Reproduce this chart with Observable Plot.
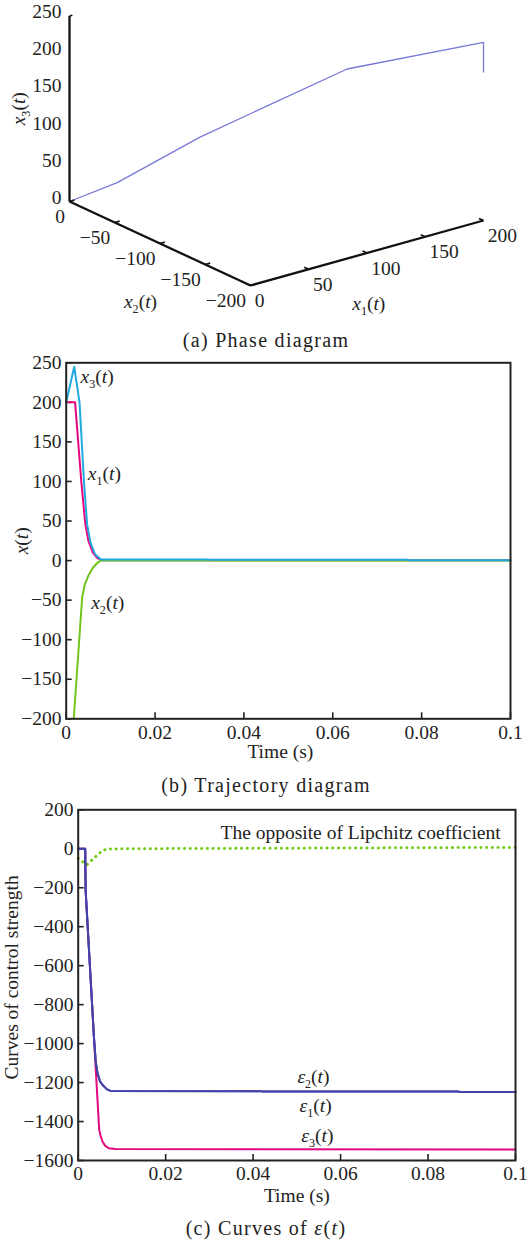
<!DOCTYPE html>
<html><head><meta charset="utf-8">
<script src="https://cdn.jsdelivr.net/npm/d3@7"></script>
<script src="https://cdn.jsdelivr.net/npm/@observablehq/plot@0.6"></script>
<style>
body{margin:0;background:#fff;}
#wrap{position:relative;width:532px;height:1243px;overflow:hidden;font-family:"Liberation Serif",serif;color:#222;}
#wrap svg{position:absolute;left:0;display:block;}
.cap{position:absolute;left:0;width:532px;text-align:center;font-size:20px;letter-spacing:1.3px;line-height:30px;height:30px;color:#222;}
</style></head>
<body><div id="wrap"></div>
<script>
// ---------- Panel (a): phase diagram ----------
const phaseX1 = [200, 200, 145, 65, 20, 0];
const phaseX2 = [-200, -200, -120, -60, -27, 0];
const phaseX3 = [200, 240, 183, 92, 32, 0];
const axis1Ticks = [0, 50, 100, 150, 200];
const axis2Ticks = [0, -50, -100, -150, -200];
const axis3Ticks = [0, 50, 100, 150, 200, 250];
const axisTitlesA = ["x1(t)", "x2(t)", "x3(t)"];

// ---------- Panel (b): trajectory diagram ----------
const tX1 = [0, 0.002, 0.0034, 0.0043, 0.005, 0.006, 0.007, 0.008, 0.1];
const valX1 = [200, 200, 100, 46, 25, 10, 3, 0.5, 0.5];
const tX2 = [0.0017, 0.0036, 0.0042, 0.005, 0.006, 0.007, 0.0078, 0.1];
const valX2 = [-200, -46, -30, -19, -9, -3, 0, 0];
const tX3 = [0, 0.0018, 0.003, 0.004, 0.0047, 0.0055, 0.0065, 0.0078, 0.032, 0.0321, 0.077, 0.0771, 0.1];
const valX3 = [200, 245, 200, 100, 46, 22, 8, 1.5, 1.5, 1, 1, 0.5, 0.5];
const bTimeTicks = [0, 0.02, 0.04, 0.06, 0.08, 0.1];
const bValueTicks = [-200, -150, -100, -50, 0, 50, 100, 150, 200, 250];
const bLabels = ["x3(t)", "x1(t)", "x2(t)"];
const bLabelT = [0.00322, 0.00486, 0.00563];
const bLabelV = [232, 110, -53];

// ---------- Panel (c): curves of epsilon ----------
const tEps = [0, 0.0016, 0.0017, 0.0036, 0.004, 0.0044, 0.005, 0.0058, 0.0066, 0.0074, 0.042, 0.0421, 0.087, 0.0871, 0.1];
const eps1 = [0, 0, -214, -967, -1090, -1150, -1195, -1218, -1235, -1243, -1244, -1246, -1246, -1248, -1248];
const eps2 = [0, 0, -214, -967, -1090, -1150, -1195, -1218, -1235, -1243, -1244, -1246, -1246, -1248, -1248];
const tEps3 = [0, 0.0016, 0.0017, 0.0048, 0.0051, 0.0056, 0.0062, 0.007, 0.0085, 0.1];
const eps3 = [0, 0, -214, -1442, -1472, -1505, -1525, -1537, -1541, -1544];
const tLip = [0, 0.002, 0.004, 0.0055, 0.0065, 0.01, 0.1];
const lip = [-50, -82, -40, -10, -2, 0, 7];
const cTimeTicks = [0, 0.02, 0.04, 0.06, 0.08, 0.1];
const cValueTicks = [-1600, -1400, -1200, -1000, -800, -600, -400, -200, 0, 200];
const cLabels = ["The opposite of Lipchitz coefficient", "ε2(t)", "ε1(t)", "ε3(t)"];
const cLabelT = [0.0966, 0.0538, 0.0543, 0.0547];
const cLabelV = [84, -1172, -1318, -1472];
const cLabelAnchor = ["end", "middle", "middle", "middle"];

// ---------- helpers ----------
const fmt = d => (d < 0 ? "\u2212" + Math.abs(d) : String(d));
const series = (ts, vs) => ts.map((t, i) => ({t, v: vs[i]}));
function richText(s) {
  const m = s.match(/^(x|ε)(\d?)\(t\)$/);
  if (!m) return null;
  const sub = m[2] ? `<tspan font-size="0.62em" dy="5">${m[2]}</tspan><tspan dy="-5">(</tspan>` : `<tspan>(</tspan>`;
  return `<tspan font-style="italic">${m[1]}</tspan>${sub}<tspan font-style="italic">t</tspan><tspan>)</tspan>`;
}
function enrich(svg) {
  d3.select(svg).selectAll("text").each(function () {
    if (this.querySelector("tspan")) return;
    const r = richText(this.textContent);
    if (r) this.innerHTML = r;
  });
  return svg;
}
const baseStyle = {fontFamily: "'Liberation Serif', serif", fontSize: "19.5px", color: "#222", background: "transparent", overflow: "visible"};
const wrap = document.getElementById("wrap");
function place(node, top) { node.style.top = top + "px"; wrap.appendChild(node); }
function caption(html, top) {
  const d = document.createElement("div");
  d.className = "cap"; d.innerHTML = html; d.style.top = top + "px"; wrap.appendChild(d);
}
const mid = {textAnchor: "middle", lineAnchor: "middle"};

// ---------- Panel (a) ----------
const proj = (a, b, c) => [1.165 * a - 0.905 * b, 0.325 * a + 0.42 * b + 0.742 * c];
const phase = phaseX1.map((a, i) => proj(a, phaseX2[i], phaseX3[i]));
const x1max = d3.max(axis1Ticks), x2min = d3.min(axis2Ticks), x3max = d3.max(axis3Ticks);
const axesSegs = [
  [[0, 0, 0], [0, 0, x3max]],
  [[0, 0, 0], [0, x2min, 0]],
  [[0, x2min, 0], [x1max, x2min, 0]]
];
const tickSegs = [
  ...axis2Ticks.map(v => [[0, v, 0], [4.2, v, 0]]),
  ...axis1Ticks.map(v => [[v, x2min, 0], [v, x2min + 5, 0]]),
  [[0, 0, x3max], [2.5, 0, x3max]]
];
const P = (s, k, j) => proj(...s[k])[j];
const titleA = [
  {label: axisTitlesA[2], p: proj(0, 0, 125), dx: -50.7, dy: 0, rot: -90},
  {label: axisTitlesA[1], p: proj(0, -100, 0), dx: -19.5, dy: 58.7, rot: 0},
  {label: axisTitlesA[0], p: proj(100, x2min, 0), dx: 1.8, dy: 50.8, rot: 0}
];
const plotA = Plot.plot({
  width: 532, height: 325, margin: 0,
  style: baseStyle,
  x: {type: "linear", domain: [-69, 463], range: [0, 532], axis: null},
  y: {type: "linear", domain: [-124, 201], range: [325, 0], axis: null},
  marks: [
    Plot.line(phase, {x: d => d[0], y: d => d[1], stroke: "#7878d8", strokeWidth: 1.3}),
    Plot.link(axesSegs, {x1: s => P(s, 0, 0), y1: s => P(s, 0, 1), x2: s => P(s, 1, 0), y2: s => P(s, 1, 1), stroke: "#111", strokeWidth: 2.3}),
    Plot.link(tickSegs, {x1: s => P(s, 0, 0), y1: s => P(s, 0, 1), x2: s => P(s, 1, 0), y2: s => P(s, 1, 1), stroke: "#111", strokeWidth: 1.6}),
    Plot.text(axis3Ticks, {x: v => proj(0, 0, v)[0], y: v => proj(0, 0, v)[1], text: fmt, textAnchor: "end", lineAnchor: "middle", dx: -8, dy: -4}),
    Plot.text(axis2Ticks, {x: v => proj(0, v, 0)[0], y: v => proj(0, v, 0)[1], text: fmt, textAnchor: "end", lineAnchor: "middle", dx: -4.5, dy: 15.5}),
    Plot.text(axis1Ticks, {x: v => proj(v, x2min, 0)[0], y: v => proj(v, x2min, 0)[1], text: fmt, textAnchor: "start", lineAnchor: "middle", dx: 4.3, dy: 15.3}),
    ...titleA.map(t => Plot.text([t], {x: d => d.p[0], y: d => d.p[1], text: d => d.label, dx: t.dx, dy: t.dy, rotate: t.rot, ...mid}))
  ]
});
place(enrich(plotA), 0);
caption("(a) Phase diagram", 325);

// ---------- Panel (b) ----------
const bW = 532 - 65.7 - 22, bH = 415 - 7.3 - 51.7;
const plotB = Plot.plot({
  width: 532, height: 415, marginTop: 7.3, marginBottom: 51.7, marginLeft: 65.7, marginRight: 22,
  style: baseStyle,
  x: {domain: [0, 0.1]},
  y: {domain: [-200, 250]},
  marks: [
    Plot.axisY({ticks: bValueTicks, tickSize: 0, tickPadding: 4.7, tickFormat: fmt, label: null}),
    Plot.axisX({ticks: bTimeTicks, tickSize: 0, tickPadding: 6.3, tickFormat: fmt, label: null}),
    Plot.tickY(bValueTicks, {y: d => d, stroke: "#222", strokeWidth: 1.6, insetRight: bW - 6}),
    Plot.tickX(bTimeTicks, {x: d => d, stroke: "#222", strokeWidth: 1.6, insetTop: bH - 6}),
    Plot.line(series(tX1, valX1), {x: "t", y: "v", stroke: "#e3087f", strokeWidth: 2}),
    Plot.line(series(tX2, valX2), {x: "t", y: "v", stroke: "#72c41e", strokeWidth: 2}),
    Plot.line(series(tX3, valX3), {x: "t", y: "v", stroke: "#22a9df", strokeWidth: 2}),
    Plot.frame({stroke: "#222", strokeWidth: 2}),
    Plot.text(bLabels.map((l, i) => ({l, t: bLabelT[i], v: bLabelV[i]})), {x: "t", y: "v", text: "l", textAnchor: "start", lineAnchor: "middle"}),
    Plot.text(["x(t)"], {text: d => d, frameAnchor: "left", dx: -44, rotate: -90, ...mid}),
    Plot.text(["Time (s)"], {text: d => d, frameAnchor: "bottom", dx: -8, dy: 33.4, ...mid})
  ]
});
place(enrich(plotB), 355);
caption("(b) Trajectory diagram", 770);

// ---------- Panel (c) ----------
const cW = 532 - 77.7 - 17, cH = 413 - 9.3 - 53;
const cRows = cLabels.map((l, i) => ({l, t: cLabelT[i], v: cLabelV[i], a: cLabelAnchor[i]}));
const plotC = Plot.plot({
  width: 532, height: 413, marginTop: 9.3, marginBottom: 53, marginLeft: 77.7, marginRight: 17,
  style: baseStyle,
  x: {domain: [0, 0.1]},
  y: {domain: [-1600, 200]},
  marks: [
    Plot.axisY({ticks: cValueTicks, tickSize: 0, tickPadding: 4.7, tickFormat: fmt, label: null}),
    Plot.axisX({ticks: cTimeTicks, tickSize: 0, tickPadding: 6, tickFormat: fmt, label: null}),
    Plot.tickY(cValueTicks, {y: d => d, stroke: "#222", strokeWidth: 1.6, insetRight: cW - 6}),
    Plot.tickX(cTimeTicks, {x: d => d, stroke: "#222", strokeWidth: 1.6, insetTop: cH - 6}),
    Plot.line(series(tLip, lip), {x: "t", y: "v", stroke: "#6fcc12", strokeWidth: 3, strokeDasharray: "0.1 5.6", strokeLinecap: "round"}),
    Plot.line(series(tEps3, eps3), {x: "t", y: "v", stroke: "#e3087f", strokeWidth: 2}),
    Plot.line(series(tEps, eps1), {x: "t", y: "v", stroke: "#4343aa", strokeWidth: 2}),
    Plot.line(series(tEps, eps2), {x: "t", y: "v", stroke: "#4343aa", strokeWidth: 2}),
    Plot.frame({stroke: "#222", strokeWidth: 2}),
    Plot.text(cRows.filter(d => d.a === "end"), {x: "t", y: "v", text: "l", textAnchor: "end", lineAnchor: "middle"}),
    Plot.text(cRows.filter(d => d.a !== "end"), {x: "t", y: "v", text: "l", ...mid}),
    Plot.text(["Curves of control strength"], {text: d => d, frameAnchor: "left", dx: -66.7, dy: -7.7, rotate: -90, ...mid}),
    Plot.text(["Time (s)"], {text: d => d, frameAnchor: "bottom", dx: 0, dy: 35, ...mid})
  ]
});
place(enrich(plotC), 800);
caption('(c) Curves of <i>ε</i>(<i>t</i>)', 1213);
</script>
</body></html>
